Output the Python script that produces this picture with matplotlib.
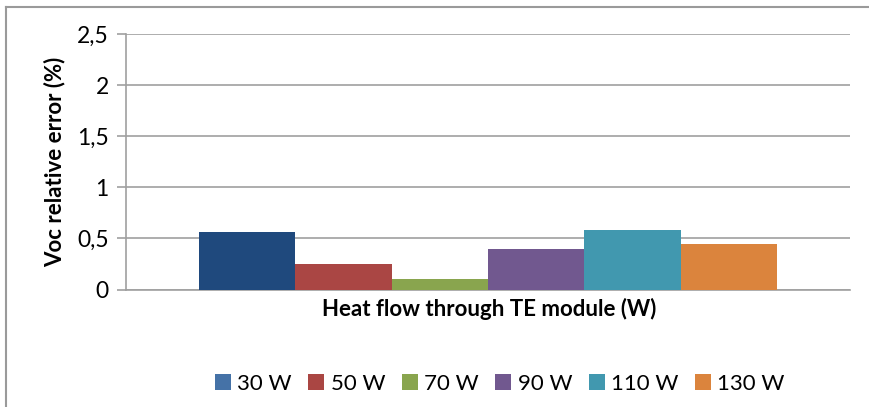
import matplotlib
matplotlib.use("Agg")
import matplotlib.pyplot as plt
from matplotlib.lines import Line2D
import numpy as np

plt.rcParams['font.family'] = ['Lato', 'DejaVu Sans']

series = ["30 W", "50 W", "70 W", "90 W", "110 W", "130 W"]
values = [0.565, 0.25, 0.10, 0.40, 0.585, 0.445]
colors = ["#1F497D", "#AA4644", "#89A54E", "#71588F", "#4198AF", "#DB843D"]
legend_colors = ["#4572A7", "#AA4643", "#89A54E", "#71588F", "#4198AF", "#DB843D"]
yticks = [0, 0.5, 1, 1.5, 2, 2.5]
ytick_labels = ["0", "0,5", "1", "1,5", "2", "2,5"]

W, H = 869, 407
fig = plt.figure(figsize=(W / 100, H / 100), dpi=100)
ax = fig.add_axes([126 / W, 1 - 289.5 / H, (850 - 126) / W, (289.5 - 34) / H])

n = len(values)
group = 0.798
bw = group / n
xs = -group / 2 + bw / 2 + np.arange(n) * bw
for x, v, c in zip(xs, values, colors):
    ax.bar(x, v, width=bw, color=c, linewidth=0, zorder=3)

ax.set_xlim(-0.5, 0.5)
ax.set_ylim(0, 2.5)
ax.set_yticks(yticks)
ax.set_yticklabels(ytick_labels, fontsize=16.5)
ax.set_xticks([])
ax.yaxis.grid(True, color="#A0A0A0", linewidth=1.2, zorder=0)
ax.tick_params(axis="y", length=6.5, width=1.2, color="#A0A0A0", pad=6)
for s in ["top", "right"]:
    ax.spines[s].set_visible(False)
ax.spines["left"].set_color("#A0A0A0")
ax.spines["left"].set_linewidth(1.2)
ax.spines["bottom"].set_color("#A0A0A0")
ax.spines["bottom"].set_linewidth(1.2)

ax.set_ylabel("Voc relative error (%)", fontsize=16, fontweight="bold", labelpad=8)
fig.text(489 / W, 1 - 309 / H, "Heat flow through TE module (W)", fontsize=16,
         fontweight="bold", ha="center", va="center")

handles = [Line2D([], [], marker="s", linestyle="", markersize=11,
                  markerfacecolor=c, markeredgewidth=0) for c in legend_colors]
fig.legend(handles, series, loc="center", bbox_to_anchor=(500 / W, 1 - 384 / H),
           ncol=6, frameon=False, fontsize=16, handlelength=0.7,
           handletextpad=0.3, columnspacing=0.75)

# chart border (top and left edges)
fig.add_artist(Line2D([6 / W, 1], [1 - 7 / H, 1 - 7 / H], transform=fig.transFigure,
                      color="#9A9A9A", linewidth=1.5))
fig.add_artist(Line2D([6 / W, 6 / W], [0, 1 - 7 / H], transform=fig.transFigure,
                      color="#9A9A9A", linewidth=1.5))

fig.savefig("out.png", dpi=100)
